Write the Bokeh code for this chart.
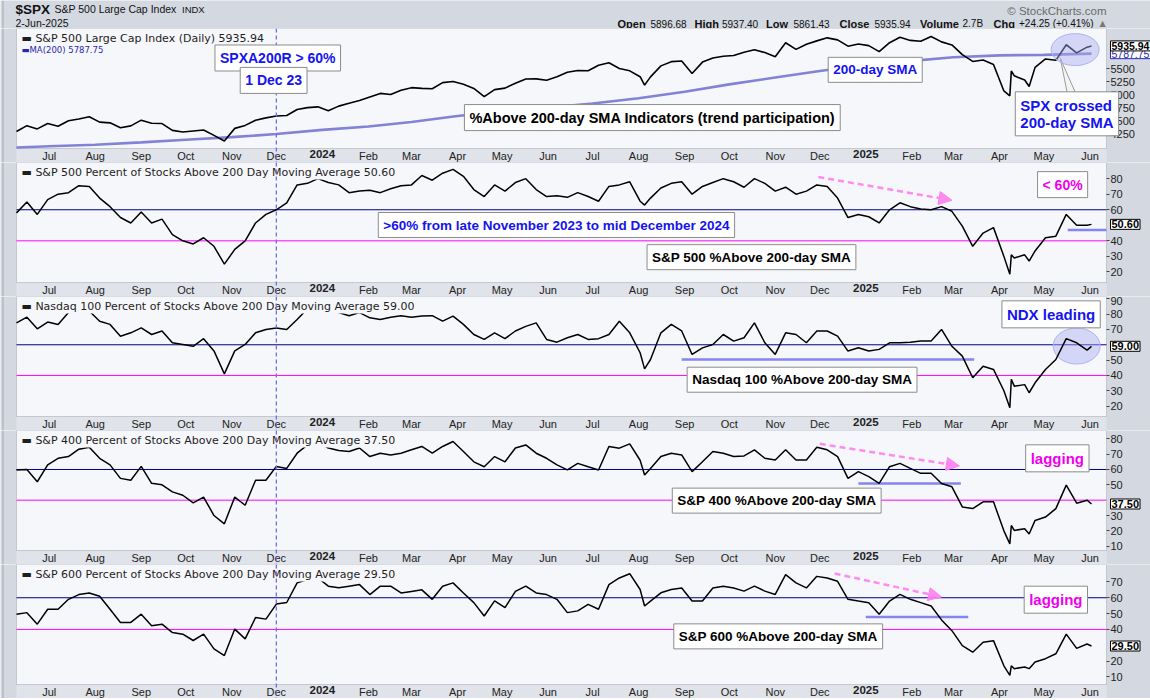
import pandas as pd
from bokeh.plotting import figure
from bokeh.layouts import column
from bokeh.models import (Range1d, FixedTicker, Span, Label, Arrow, NormalHead,
                          CustomJSTickFormatter, DatetimeAxis, LinearAxis, BoxAnnotation)
from bokeh.embed import file_html
from bokeh.resources import INLINE
from bokeh.core.properties import value

# ------------------------------------------------------------------ data
WEEKS = list(pd.date_range("2023-06-09", "2025-05-30", freq="W-FRI"))
EXTRA_DAYS = list(pd.to_datetime(["2024-08-05", "2025-04-08", "2025-04-09",
                                  "2025-04-21", "2025-06-02"]))
DATES = sorted(WEEKS + EXTRA_DAYS)

SPX_CLOSE = [
    4298, 4410, 4348, 4450, 4399, 4505, 4536, 4582, 4478, 4464,
    4370, 4406, 4515, 4457, 4450, 4320, 4288, 4308, 4327, 4224,
    4117, 4358, 4415, 4514, 4559, 4594, 4604, 4719, 4755, 4770,
    4697, 4784, 4840, 4891, 4959, 5027, 5006, 5089, 5137, 5124,
    5117, 5234, 5254, 5204, 5123, 4967, 5100, 5128, 5223, 5303,
    5305, 5278, 5347, 5432, 5465, 5460, 5567, 5615, 5505, 5459,
    5346, 5186, 5344, 5554, 5635, 5648, 5408, 5626, 5703, 5738,
    5751, 5815, 5864, 5808, 5729, 5996, 5870, 5969, 6032, 6090,
    6051, 5931, 5971, 5942, 5827, 5997, 6101, 6041, 6026, 6115,
    6013, 5955, 5770, 5639, 5667, 5581, 5074, 4982, 5457,
    5363, 5283, 5158, 5525, 5686, 5660, 5958, 5803, 5912, 5935.94,
]

MA_DATES = ["2023-06-09", "2023-07-01", "2023-08-01", "2023-09-01", "2023-10-01",
            "2023-11-01", "2023-12-01", "2024-01-01", "2024-02-01", "2024-03-01",
            "2024-04-01", "2024-05-01", "2024-06-01", "2024-07-01", "2024-08-01",
            "2024-09-01", "2024-10-01", "2024-11-01", "2024-12-01", "2025-01-01",
            "2025-02-01", "2025-03-01", "2025-04-01", "2025-05-01", "2025-06-02"]
SPX_MA200 = [3992, 4015, 4045, 4090, 4140, 4190, 4250, 4330, 4395, 4480,
             4595, 4680, 4755, 4835, 4935, 5060, 5200, 5330, 5455, 5570,
             5650, 5720, 5755, 5765, 5787.75]

SPX_A200 = [
    58, 65, 57, 66.5, 70, 71, 75.5, 75, 67.5, 62,
    55, 51.5, 58.5, 51.5, 54, 44, 40, 38, 42, 36.5,
    25, 34.5, 40, 51.5, 57, 60, 64.5, 76, 77, 80,
    77.5, 76, 71, 72, 72.5, 71, 73.5, 75.5, 76, 82,
    79, 83.5, 86, 81.5, 73, 68.5, 76, 72, 77.5, 80,
    73, 68.5, 69, 68, 71, 68.5, 65.5, 75, 76, 78,
    65.5, 63, 67.5, 74, 77, 78, 70, 75, 77.5, 80,
    78, 74.5, 80, 77, 72, 74.5, 70, 72, 76, 75,
    67.5, 55, 57, 55.5, 51.5, 60, 64.5, 62, 60.5, 60,
    62, 59, 49.5, 36.5, 45, 48.5, 30, 18.5, 31,
    29, 31, 27, 33.5, 42, 43, 57, 50, 50, 50.6,
]

NDX_A200 = [
    74.3, 78, 70.4, 74.8, 73.3, 81, 82.4, 82, 75.4, 73.3,
    65.6, 67.8, 71, 66.7, 69, 61.3, 60.2, 59, 64, 56,
    41, 56, 60.2, 67.8, 70, 71, 70, 76.5, 83.5, 87,
    84, 81, 79, 81, 77.6, 76.5, 78, 79, 78, 78.7,
    79, 75.4, 78.7, 73.3, 66.7, 63.5, 67.8, 64, 69, 72,
    74.3, 63.5, 61.7, 64.6, 66.7, 63.5, 64, 66.7, 75.4, 67.8,
    54.8, 44.3, 50.4, 67.8, 73.3, 69, 53.7, 58, 60.2, 66.7,
    62.4, 64.6, 74.3, 61.3, 53.7, 67.8, 66.7, 61.3, 69, 69,
    65.6, 55.9, 58, 55.9, 57, 61.3, 61.3, 61.7, 62.4, 62.4,
    70, 59, 52.6, 38.5, 46, 43.9, 30, 18.9, 37.4,
    33, 34, 28.7, 35.2, 43.9, 50.4, 64, 61.3, 56.5, 59,
]

MID_A200 = [
    59.7, 60, 52, 63, 67.3, 68.4, 73.2, 74.5, 67.3, 63,
    54.2, 53, 62, 51, 50, 45.4, 43.2, 38.2, 42, 30,
    24.6, 42, 36.7, 53, 53, 62, 60.7, 70.6, 76, 78,
    74, 72.3, 71.7, 74, 68.4, 70.6, 69.5, 70.6, 72.8, 75,
    70.6, 75, 78.2, 71.7, 65, 61.8, 68.4, 65, 74, 76,
    70.6, 67.3, 63, 59.7, 64, 61.8, 59.7, 75, 73.9, 76.7,
    66, 56.4, 60.7, 68.4, 70.6, 69.5, 58.6, 65, 71.7, 70.6,
    68.4, 68.8, 72.8, 67.3, 66.2, 72.8, 66.2, 66.2, 74.5, 72.8,
    68.4, 54.2, 58.6, 55.3, 50.9, 61.8, 64, 60.7, 57.5, 57.5,
    50.9, 48.7, 35.6, 34.5, 38.9, 38.9, 20, 11.5, 23.5,
    20.3, 21.4, 18, 26.8, 29, 34.5, 49.8, 38, 40, 37.5,
]

SML_A200 = [
    49.6, 50.6, 43.3, 52.7, 52.7, 59, 62, 63, 61, 52.7,
    44.4, 44.4, 49.6, 42.3, 43.3, 38, 37, 33, 37, 27.7,
    23.5, 40.2, 34, 47.5, 46.5, 56, 57, 69.4, 71.5, 72.5,
    67.3, 66.3, 67.3, 68.3, 62, 67.3, 67.3, 63, 64, 65,
    59, 67.3, 69.4, 63, 56.9, 48.5, 58, 53.8, 64, 67.3,
    63, 62, 59, 50.6, 51.7, 55.8, 52.7, 68.3, 72.5, 75.2,
    65.2, 54.8, 57.9, 63.1, 65.2, 66.2, 57.9, 57.9, 66.2, 67.3,
    66.2, 64.2, 67.3, 64.2, 62.1, 74.6, 69.4, 66.2, 73.5, 72.5,
    70.4, 59, 57.9, 56.9, 49.6, 57.9, 62.1, 59, 56.9, 54.8,
    46, 39.2, 29.8, 25.6, 31.9, 32.9, 17, 11, 17,
    15.2, 16.3, 15.2, 19.4, 21.5, 24.6, 37, 28, 30.8, 29.5,
]

assert all(len(s) == len(DATES) for s in (SPX_CLOSE, SPX_A200, NDX_A200, MID_A200, SML_A200))

MONTH_NAMES = ["", "Feb", "Mar", "Apr", "May", "Jun", "Jul", "Aug", "Sep", "Oct", "Nov", "Dec"]
YEAR_TICKS = [("2024-01-01", "2024"), ("2025-01-01", "2025")]
MONTH_STARTS = pd.date_range("2023-07-01", "2025-06-01", freq="MS")

SPX_TICKS = [4250, 4500, 4750, 5000, 5250, 5500]
SPX_A200_TICKS = [20, 30, 40, 60, 70, 80]
NDX_A200_TICKS = [20, 30, 40, 50, 70, 80, 90]
MID_A200_TICKS = [10, 20, 30, 50, 60, 70, 80]
SML_A200_TICKS = [10, 20, 40, 50, 60, 70]

# ------------------------------------------------------------------ style / geometry
W = 1150
DATA_L, DATA_R = 16, 1106          # data area inside each panel (px)
PH_DATA, PH_AXIS = 120, 14         # panel data height + date strip
PX_DAY = 1.4848
DAY_MS = 86400000.0
OUTER = "#d4d8e0"
STRIP = "#e0e3e9"
PLOT_BG = "#f6f7fb"
FRAME_C = "#747986"
BLUE = "#1414f0"
MAGENTA = "#f000f0"
PINK = "#ff80ee"
SEG_BLUE = "#8484f2"
DEC_C = "#7070ee"
F = value("Liberation Sans")


def ms(d):
    return pd.Timestamp(d).value / 1e6


XSTART = ms("2023-06-09")
XEND = XSTART + (DATA_R - DATA_L) / PX_DAY * DAY_MS
XLO = XSTART - DATA_L / PX_DAY * DAY_MS
XHI = XSTART + (W - DATA_L) / PX_DAY * DAY_MS
MONTH_MS = [ms(d) for d in MONTH_STARTS]


def panel(y0, y1, yticks):
    ylo = y0 - PH_AXIS * (y1 - y0) / PH_DATA
    p = figure(width=W, height=PH_DATA + PH_AXIS, x_range=Range1d(XLO, XHI),
               y_range=Range1d(ylo, y1), x_axis_location=None, y_axis_location=None,
               toolbar_location=None, output_backend="svg", min_border=0,
               background_fill_color=OUTER, border_fill_color=OUTER,
               outline_line_color=None)
    p.grid.visible = False
    p.add_layout(BoxAnnotation(left=2, right=3, left_units="screen", right_units="screen",
                               fill_color="#a3a8b3", fill_alpha=1, line_color=None,
                               level="underlay"))
    p.add_layout(BoxAnnotation(left=XSTART, right=XEND, bottom=ylo, top=y0,
                               fill_color=STRIP, fill_alpha=1, line_color=None,
                               level="underlay"))
    p.add_layout(BoxAnnotation(left=XSTART, right=XEND, bottom=y0, top=y1,
                               fill_color=PLOT_BG, fill_alpha=1, line_color=FRAME_C,
                               line_width=1, level="underlay"))
    xa = DatetimeAxis(fixed_location=y0, ticker=FixedTicker(ticks=MONTH_MS),
                      formatter=CustomJSTickFormatter(
                          args=dict(names=MONTH_NAMES),
                          code="return names[new Date(tick).getUTCMonth()];"),
                      major_tick_out=0, major_tick_in=0, minor_tick_out=0, minor_tick_in=0,
                      axis_line_color=None, major_label_standoff=1,
                      major_label_text_font="Liberation Sans",
                      major_label_text_font_size="11px",
                      major_label_text_color="#222222")
    p.add_layout(xa, "below")
    ya = LinearAxis(fixed_location=XEND, ticker=FixedTicker(ticks=yticks),
                    major_tick_out=3, major_tick_in=0, minor_tick_out=0, minor_tick_in=0,
                    axis_line_color=None, major_tick_line_color="#444444",
                    major_label_standoff=1, major_label_text_font="Liberation Sans",
                    major_label_text_font_size="11px", major_label_text_color="#222222")
    p.add_layout(ya, "right")
    for d, txt in YEAR_TICKS:
        p.add_layout(Label(x=ms(d), y=y0, y_offset=-1, text=txt,
                           text_align="center", text_baseline="top",
                           text_font="Liberation Sans", text_font_size="11.5px",
                           text_font_style="bold", text_color="#222222"))
    return p


def legend(p, y1, text, dy=2, color="#1e1e1e", size="11px"):
    p.add_layout(Label(x=XSTART, y=y1, x_offset=4, y_offset=-dy, text=text,
                       text_font="DejaVu Sans", text_font_size=size, text_color=color,
                       text_align="left", text_baseline="top",
                       background_fill_color=PLOT_BG, background_fill_alpha=1.0,
                       padding=1))


def box(p, d, v, text, color, size="13.5px"):
    common = dict(x=ms(d), y=v, text=text, text_font="Liberation Sans",
                  text_font_size=size, text_font_style="bold", text_align="left",
                  text_baseline="top", padding=5, text_line_height=1.0)
    p.add_layout(Label(**common, x_offset=4, y_offset=0, text_alpha=0,
                       background_fill_color="#8a8a8a", background_fill_alpha=0.55))
    p.add_layout(Label(**common, x_offset=1, y_offset=3, text_color=color,
                       background_fill_color="white",
                       border_line_color="#8c8c8c", border_line_width=1))


def tag(p, v, text, color="black", size="11px", style="bold"):
    p.add_layout(Label(x=XEND, y=v, x_offset=4, text=text,
                       text_font="Liberation Sans", text_font_size=size,
                       text_font_style=style, text_color=color, text_align="left",
                       text_baseline="middle", background_fill_color="white",
                       border_line_color=color, border_line_width=1, padding=1))


def dec_line(p):
    p.add_layout(Span(location=ms("2023-12-01"), dimension="height", line_color=DEC_C,
                      line_dash="4 3", line_width=1.3))


def levels(p):
    p.segment(x0=[XSTART, XSTART], y0=[60, 40], x1=[XEND, XEND], y1=[60, 40],
              line_color=["#000080", "#ff00ff"], line_width=1)


def arrow(p, d0, v0, d1, v1):
    p.add_layout(Arrow(end=NormalHead(size=13, fill_color=PINK, line_color=PINK,
                                      fill_alpha=0.9),
                       x_start=ms(d0), y_start=v0, x_end=ms(d1), y_end=v1,
                       line_color=PINK, line_width=2.5, line_dash="6 4", line_alpha=0.9))


# ------------------------------------------------------------------ header
H0 = 28
hdr = figure(width=W, height=H0, x_range=Range1d(0, W), y_range=Range1d(H0, 0),
             toolbar_location=None, output_backend="svg", min_border=0,
             x_axis_location=None, y_axis_location=None,
             background_fill_color=OUTER, border_fill_color=OUTER, outline_line_color=None)
hdr.grid.visible = False
hdr.add_layout(BoxAnnotation(left=2, right=3, left_units="screen", right_units="screen",
                             fill_color="#a3a8b3", fill_alpha=1, line_color=None,
                             level="underlay"))
hdr.text(x=[15], y=[8.5], text=["$SPX"], text_font=F, text_font_size="13.5px",
         text_font_style="bold", text_baseline="middle", text_color="#111111")
hdr.text(x=[54], y=[8.5], text=["S&P 500 Large Cap Index"], text_font=F,
         text_font_size="10.5px", text_baseline="middle", text_color="#111111")
hdr.text(x=[181.5], y=[8.5], text=["INDX"], text_font=F, text_font_size="9.5px",
         text_baseline="middle", text_color="#111111")
hdr.text(x=[15], y=[22], text=["2-Jun-2025"], text_font=F, text_font_size="10.5px",
         text_baseline="middle", text_color="#111111")
hdr.text(x=[1106], y=[10], text=["© StockCharts.com"], text_font=F, text_font_size="11.5px",
         text_align="right", text_baseline="middle", text_color="#6a6a6a")
QUOTE = [(617, "Open", True), (650, "5896.68", False), (694, "High", True),
         (721.5, "5937.40", False), (765.5, "Low", True), (793, "5861.43", False),
         (839, "Close", True), (874, "5935.94", False), (919.5, "Volume", True),
         (962, "2.7B", False), (993, "Chg", True), (1018.5, "+24.25 (+0.41%)", False)]
for qx, qt, qb in QUOTE:
    hdr.text(x=[qx], y=[23], text=[qt], text_font=F,
             text_font_size="11px" if qb else "10px",
             text_font_style="bold" if qb else "normal", text_baseline="middle",
             text_color="#111111")
hdr.text(x=[1099], y=[23], text=["▲"], text_font=value("DejaVu Sans"),
         text_font_size="8px", text_baseline="middle", text_color="#777777")

# ------------------------------------------------------------------ panel 1: SPX
Y1 = (3973, 6269)
p1 = panel(*Y1, SPX_TICKS)
p1.line(pd.to_datetime(MA_DATES), SPX_MA200, line_color="#8282d6", line_width=2.6)
p1.line(DATES, SPX_CLOSE, line_color="black", line_width=1.6)
legend(p1, Y1[1], "▬ S&P 500 Large Cap Index (Daily) 5935.94")
legend(p1, Y1[1], "▬MA(200) 5787.75", dy=15, color="#2828b4", size="8.5px")
p1.patch([ms("2025-05-12"), ms("2025-05-17"), ms("2025-05-23")], [5698, 4987, 4987],
         fill_color="#f2f2f2", fill_alpha=0.8, line_color="#9a9a9a", line_width=1)
p1.ellipse(x=[ms("2025-05-22")], y=[5865], width=48, height=32, width_units="screen",
           height_units="screen", fill_color="#a8adf0", fill_alpha=0.45,
           line_color="#b0b4f0", line_width=1)
dec_line(p1)
box(p1, "2023-10-20", 5896, "SPXA200R > 60%", BLUE, "14px")
box(p1, "2023-11-06", 5467, "1 Dec 23", BLUE, "14px")
box(p1, "2024-04-05", 4756, "%Above 200-day SMA Indicators (trend participation)", "black", "14.5px")
box(p1, "2024-12-06", 5660, "200-day SMA", BLUE, "13.5px")
box(p1, "2025-04-11", 5000, "SPX crossed\n200-day SMA", BLUE, "15px")
tag(p1, 5787.75, "5787.75", color="#2828b4", size="10.5px", style="normal")
tag(p1, 5935.94, "5935.94", size="10.5px")

# ------------------------------------------------------------------ panel 2: S&P 500 %above
Y2 = (13.2, 90.4)
p2 = panel(*Y2, SPX_A200_TICKS)
levels(p2)
p2.line(DATES, SPX_A200, line_color="black", line_width=1.5)
p2.segment(x0=[ms("2025-05-17")], y0=[46.9], x1=[XEND], y1=[46.9],
           line_color=SEG_BLUE, line_width=2.5)
legend(p2, Y2[1], "▬ S&P 500 Percent of Stocks Above 200 Day Moving Average 50.60")
dec_line(p2)
arrow(p2, "2024-11-30", 81.1, "2025-02-28", 66.1)
box(p2, "2024-02-07", 56.3, ">60% from late November 2023 to mid December 2024", BLUE, "13.5px")
box(p2, "2024-08-06", 35.6, "S&P 500 %Above 200-day SMA", "black", "13.5px")
box(p2, "2025-04-26", 82.6, "< 60%", MAGENTA, "14px")
tag(p2, 50.6, "50.60")

# ------------------------------------------------------------------ panel 3: Nasdaq 100 %above
Y3 = (13.2, 91.5)
p3 = panel(*Y3, NDX_A200_TICKS)
levels(p3)
p3.segment(x0=[ms("2024-08-30")], y0=[50.4], x1=[ms("2025-03-15")], y1=[50.4],
           line_color=SEG_BLUE, line_width=2.5)
p3.ellipse(x=[ms("2025-05-23")], y=[59.2], width=47, height=36, width_units="screen",
           height_units="screen", fill_color="#a8adf0", fill_alpha=0.45,
           line_color="#b0b4f0", line_width=1)
p3.line(DATES, NDX_A200, line_color="black", line_width=1.5)
legend(p3, Y3[1], "▬ Nasdaq 100 Percent of Stocks Above 200 Day Moving Average 59.00")
dec_line(p3)
box(p3, "2024-09-02", 43.4, "Nasdaq 100 %Above 200-day SMA", "black", "13.5px")
box(p3, "2025-04-02", 86.7, "NDX leading", BLUE, "15px")
tag(p3, 59.0, "59.00")

# ------------------------------------------------------------------ panel 4: S&P 400 %above
Y4 = (7.2, 85.4)
p4 = panel(*Y4, MID_A200_TICKS)
levels(p4)
p4.segment(x0=[ms("2024-12-27")], y0=[50.9], x1=[ms("2025-03-06")], y1=[50.9],
           line_color=SEG_BLUE, line_width=2.5)
p4.line(DATES, MID_A200, line_color="black", line_width=1.5)
legend(p4, Y4[1], "▬ S&P 400 Percent of Stocks Above 200 Day Moving Average 37.50")
dec_line(p4)
arrow(p4, "2024-12-01", 76.7, "2025-03-05", 62.3)
box(p4, "2024-08-23", 45.9, "S&P 400 %Above 200-day SMA", "black", "13.5px")
box(p4, "2025-04-18", 74.1, "lagging", MAGENTA, "15px")
tag(p4, 37.5, "37.50")

# ------------------------------------------------------------------ panel 5: S&P 600 %above
Y5 = (5.2, 81)
p5 = panel(*Y5, SML_A200_TICKS)
levels(p5)
p5.segment(x0=[ms("2025-01-01")], y0=[47.9], x1=[ms("2025-03-11")], y1=[47.9],
           line_color=SEG_BLUE, line_width=2.5)
p5.line(DATES, SML_A200, line_color="black", line_width=1.5)
legend(p5, Y5[1], "▬ S&P 600 Percent of Stocks Above 200 Day Moving Average 29.50")
dec_line(p5)
arrow(p5, "2024-12-11", 75.3, "2025-02-21", 60.5)
box(p5, "2024-08-24", 41.6, "S&P 600 %Above 200-day SMA", "black", "13.5px")
box(p5, "2025-04-17", 65.4, "lagging", MAGENTA, "15px")
tag(p5, 29.5, "29.50")

layout = column(hdr, p1, p2, p3, p4, p5, spacing=0)
open("out.html", "w").write(file_html(layout, INLINE, title="$SPX %Above 200-day SMA"))
